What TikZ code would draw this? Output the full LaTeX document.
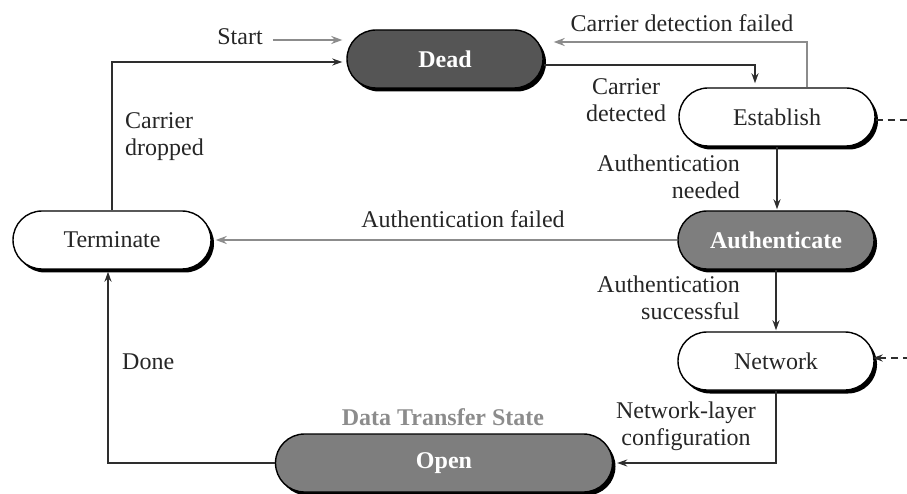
\documentclass[tikz,border=0pt]{standalone}
\usepackage{fontspec}
\setmainfont{Liberation Serif}
\usetikzlibrary{arrows.meta,shapes.misc,shadows}
\definecolor{deadfill}{HTML}{555555}
\definecolor{midfill}{HTML}{7E7E7E}
\definecolor{grayline}{HTML}{8C8C8C}
\definecolor{darkline}{HTML}{2E2E2E}
\definecolor{txt}{HTML}{262626}
\begin{document}
\begin{tikzpicture}[x=1pt,y=-1pt,
  font=\fontsize{24}{27}\selectfont,
  state/.style={rounded rectangle, draw=black, line width=1.4pt,
    minimum width=196pt, minimum height=58pt, inner sep=0pt, text=txt,
    drop shadow={shadow xshift=3pt, shadow yshift=-3.5pt, fill=black, opacity=1}},
  darkstate/.style={state, text=white, font=\fontsize{24}{27}\selectfont\bfseries},
  arr/.style={-{Stealth[length=10pt,width=7pt]}, line width=1.6pt, draw=darkline},
  garr/.style={-{Stealth[length=11pt,width=8pt]}, line width=2.4pt, draw=grayline},
  dashline/.style={line width=1.6pt, draw=darkline, dash pattern=on 7pt off 5pt},
  lbl/.style={inner sep=0pt, text=txt, align=center}
]
\useasboundingbox (0,0) rectangle (907,494);

% states
\node[darkstate, fill=deadfill] (dead) at (445,59) {Dead};
\node[state, fill=white] (estab) at (777,117) {Establish};
\node[darkstate, fill=midfill] (auth) at (776,240) {Authenticate};
\node[state, fill=white] (net) at (776,361) {Network};
\node[state, fill=white, minimum width=198pt] (term) at (112,240) {Terminate};
\node[darkstate, fill=midfill, minimum width=337pt] (open) at (444,463) {Open};

% labels
\node[lbl] (start) at (240,37) {Start};
\node[lbl] (cdf) at (682,23) {Carrier detection failed};
\node[lbl] (cdet) at (626,100) {Carrier\\detected};
\node[lbl, align=left, anchor=west] (cdrop) at (125,137) {Carrier\\dropped};
\node[lbl, align=right, anchor=east] (an) at (740,177) {Authentication\\needed};
\node[lbl] (af) at (463,219) {Authentication failed};
\node[lbl, align=right, anchor=east] (as) at (740,298) {Authentication\\successful};
\node[lbl] (nlc) at (686,426) {Network-layer\\configuration};
\node[lbl, anchor=west] (done) at (122,362) {Done};
\node[lbl, text=grayline, font=\fontsize{24}{27}\selectfont\bfseries] (dts) at (443,417) {Data Transfer State};

% free ends
\coordinate (r1) at (910,120);
\coordinate (r2) at (910,358);

% connectors
\draw[garr, shorten >=4pt] ([xshift=10pt,yshift=-3pt]start.east) -- ([yshift=-3pt]start.east -| dead.west);
\draw[arr, shorten >=4pt] (term.north) |- ([yshift=-3pt]dead.west);
\draw[arr, shorten >=4pt] ([yshift=-6pt]dead.east) -| ([xshift=-22pt]estab.north);
\draw[garr, shorten >=10pt] ([xshift=30pt]estab.north) |- ([yshift=17pt]dead.east);
\draw[arr, shorten >=1pt] (estab.south) -- (estab.south |- auth.north);
\draw[garr, shorten >=4pt] (auth.west) -- (term.east);
\draw[arr, shorten >=1pt] (auth.south) -- (auth.south |- net.north);
\draw[arr, shorten >=4pt] (net.south) |- (open.east);
\draw[arr, shorten >=2pt] (open.west) -| ([xshift=-4pt]term.south);
\draw[dashline] ([yshift=-3pt]estab.east) -- (r1);
\draw[dashline, -{Stealth[length=10pt,width=7pt]}, shorten >=-2pt] (r2) -- ([yshift=3pt]net.east);
\end{tikzpicture}
\end{document}
